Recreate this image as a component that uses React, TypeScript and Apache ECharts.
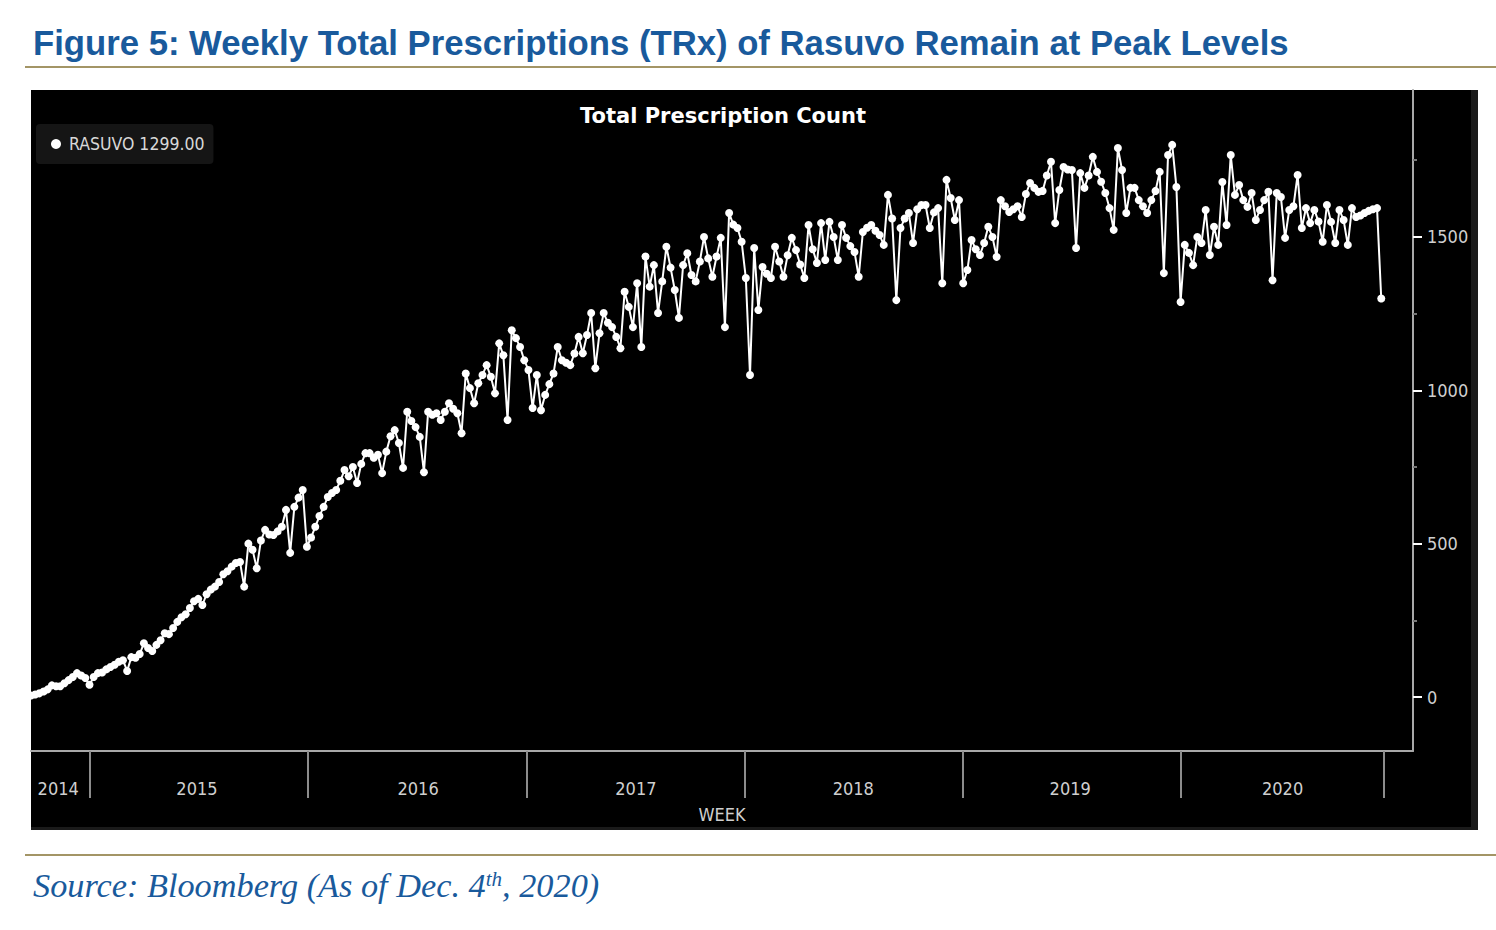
import React, { useEffect, useRef } from "react";
import * as echarts from "echarts";

// Year boundaries (in week index from first data week) and label positions
const yearLabels = ["2014", "2015", "2016", "2017", "2018", "2019", "2020"];
const yearTickWeeks = [14.1, 66.3, 118.5, 170.7, 222.9, 275.1, 323.7];
const yearLabelWeeks = [6.5, 39.7, 92.6, 144.7, 196.7, 248.6, 299.4];
const yTickValues = [0, 500, 1000, 1500];
const yMinorValues = [250, 750, 1250, 1750];

// Weekly total prescriptions (TRx)
const trx2014 = [5, 8, 12, 18, 25, 38, 35, 35, 45, 55, 65, 78, 70, 62];
const trx2015 = [40, 65, 78, 80, 90, 98, 105, 115, 120, 85, 130, 128, 140, 175, 160, 150, 170, 185, 208, 205, 225, 245, 260, 270, 290, 312, 320, 300, 335, 350, 360, 375, 400, 410, 425, 437, 440, 360, 500, 480, 420, 510, 545, 530, 528, 540, 555, 610, 470, 620, 650, 675];
const trx2016 = [490, 520, 555, 590, 620, 652, 665, 675, 705, 740, 720, 750, 698, 760, 795, 795, 780, 790, 730, 800, 850, 870, 828, 747, 930, 900, 880, 848, 733, 930, 920, 925, 903, 930, 958, 940, 925, 860, 1055, 1007, 958, 1023, 1050, 1082, 1044, 990, 1153, 1114, 903, 1196, 1170, 1141];
const trx2017 = [1098, 1066, 942, 1050, 935, 985, 1020, 1055, 1141, 1098, 1090, 1082, 1120, 1174, 1121, 1180, 1252, 1072, 1186, 1252, 1220, 1206, 1174, 1137, 1321, 1272, 1206, 1349, 1141, 1436, 1338, 1408, 1252, 1355, 1468, 1400, 1327, 1236, 1408, 1447, 1376, 1355, 1420, 1500, 1430, 1370, 1436, 1497, 1206, 1578, 1540, 1529, 1484];
const trx2018 = [1366, 1050, 1464, 1262, 1402, 1380, 1366, 1468, 1420, 1370, 1440, 1497, 1457, 1410, 1366, 1539, 1460, 1415, 1545, 1425, 1549, 1500, 1425, 1539, 1497, 1470, 1451, 1370, 1516, 1530, 1539, 1520, 1506, 1474, 1637, 1560, 1294, 1529, 1560, 1578, 1480, 1590, 1604, 1604, 1529, 1580, 1594, 1349, 1686, 1627, 1555, 1620];
const trx2019 = [1349, 1392, 1490, 1460, 1441, 1480, 1533, 1500, 1435, 1620, 1600, 1581, 1590, 1600, 1565, 1640, 1676, 1660, 1647, 1650, 1700, 1745, 1545, 1653, 1728, 1720, 1718, 1464, 1708, 1660, 1700, 1761, 1712, 1680, 1643, 1594, 1523, 1790, 1718, 1578, 1660, 1660, 1620, 1600, 1578, 1620, 1650, 1712, 1382, 1767, 1800, 1663];
const trx2020 = [1288, 1474, 1448, 1408, 1500, 1480, 1588, 1441, 1533, 1474, 1679, 1539, 1767, 1637, 1669, 1620, 1598, 1643, 1555, 1588, 1620, 1647, 1359, 1643, 1630, 1497, 1588, 1600, 1702, 1529, 1594, 1545, 1588, 1550, 1484, 1604, 1549, 1480, 1588, 1555, 1474, 1594, 1565, 1570, 1578, 1585, 1590, 1594, 1299];

const seriesName = "RASUVO";
const figureTitle = "Figure 5: Weekly Total Prescriptions (TRx) of Rasuvo Remain at Peak Levels";
const chartTitle = "Total Prescription Count";
const axisName = "WEEK";

const NARROW = "'Liberation Sans Narrow', 'DejaVu Sans Condensed', 'Arial Narrow', 'Liberation Sans', sans-serif";
const BLUE = "#195a9c";
const GOLD = "#a39566";
const LABEL = "#cfcfcf";

export default function App() {
  const ref = useRef<HTMLDivElement | null>(null);

  useEffect(() => {
    if (!ref.current) return;
    const chart = echarts.init(ref.current, null, { renderer: "svg" });
    const values = [...trx2014, ...trx2015, ...trx2016, ...trx2017, ...trx2018, ...trx2019, ...trx2020];
    const data = values.map((v, i) => [i, v]);
    const last = values[values.length - 1];

    const option: any = {
      animation: false,
      backgroundColor: "#ffffff",
      title: {
        text: chartTitle,
        left: 723,
        top: 105,
        padding: 0,
        textAlign: "center",
        textStyle: { color: "#ffffff", fontSize: 21, fontWeight: "bold", fontFamily: "'DejaVu Sans', sans-serif" },
      },
      legend: {
        left: 36,
        top: 124,
        padding: [11, 9, 11, 15],
        backgroundColor: "#151515",
        borderRadius: 4,
        icon: "circle",
        itemWidth: 10,
        itemHeight: 10,
        itemGap: 8,
        selectedMode: false,
        data: [seriesName],
        formatter: (name: string) => `${name} ${last.toFixed(2)}`,
        textStyle: { color: "#d8d8d8", fontSize: 17.5, fontFamily: NARROW, padding: [0, 0, 0, 3] },
      },
      grid: { left: 31, top: 90, width: 1382, height: 661, containLabel: false },
      xAxis: [
        {
          type: "value",
          min: 0,
          max: 330.6,
          axisLine: { show: true, onZero: false, lineStyle: { color: "#a8a8a8", width: 2 } },
          axisTick: { show: true, customValues: yearTickWeeks, length: 47, lineStyle: { color: "#8c8c8c", width: 2 } },
          axisLabel: {
            show: true,
            customValues: yearLabelWeeks,
            formatter: (v: number) => {
              let best = 0;
              yearLabelWeeks.forEach((w, k) => {
                if (Math.abs(w - v) < Math.abs(yearLabelWeeks[best] - v)) best = k;
              });
              return yearLabels[best];
            },
            margin: 28,
            color: LABEL,
            fontSize: 18,
            fontFamily: NARROW,
          },
          splitLine: { show: false },
          name: axisName,
          nameLocation: "middle",
          nameGap: 54,
          nameTextStyle: { color: LABEL, fontSize: 18, fontFamily: NARROW },
        },
      ],
      yAxis: [
        {
          type: "value",
          position: "right",
          min: -176,
          max: 1979,
          axisLine: { show: true, onZero: false, lineStyle: { color: "#a8a8a8", width: 2 } },
          axisTick: { show: true, customValues: yTickValues, length: 9, lineStyle: { color: "#ffffff", width: 2 } },
          axisLabel: {
            show: true,
            customValues: yTickValues,
            formatter: (v: number) => String(v),
            margin: 14,
            color: LABEL,
            fontSize: 18,
            fontFamily: NARROW,
          },
          splitLine: { show: false },
        },
        {
          type: "value",
          position: "right",
          min: -176,
          max: 1979,
          axisLine: { show: false, onZero: false },
          axisTick: { show: true, customValues: yMinorValues, length: 4, lineStyle: { color: "#777777", width: 2 } },
          axisLabel: { show: false },
          splitLine: { show: false },
        },
      ],
      graphic: [
        {
          type: "rect",
          z: -10,
          shape: { x: 31, y: 90, width: 1447, height: 740 },
          style: { fill: "#000000" },
        },
        {
          type: "rect",
          z: -9,
          shape: { x: 1471, y: 90, width: 7, height: 740 },
          style: { fill: "#1a1a1a" },
        },
        {
          type: "rect",
          z: -9,
          shape: { x: 31, y: 827, width: 1447, height: 3 },
          style: { fill: "#1a1a1a" },
        },
        {
          type: "text",
          x: 33,
          y: 43,
          style: {
            text: figureTitle,
            fill: BLUE,
            fontSize: 34.7,
            fontWeight: "bold",
            fontFamily: "'Liberation Sans', Arial, sans-serif",
            verticalAlign: "middle",
          },
        },
        {
          type: "line",
          shape: { x1: 25, y1: 67, x2: 1496, y2: 67 },
          style: { stroke: GOLD, lineWidth: 2 },
        },
        {
          type: "line",
          shape: { x1: 25, y1: 855, x2: 1496, y2: 855 },
          style: { stroke: GOLD, lineWidth: 2 },
        },
        {
          type: "text",
          x: 33,
          y: 885,
          style: {
            text: "{a|Source: Bloomberg (As of Dec. 4}{s|th}{a|, 2020)}",
            verticalAlign: "middle",
            rich: {
              a: { fill: BLUE, color: BLUE, fontSize: 34.3, fontStyle: "italic", fontFamily: "'Liberation Serif', 'DejaVu Serif', serif" },
              s: { fill: BLUE, color: BLUE, fontSize: 21, fontStyle: "italic", fontFamily: "'Liberation Serif', 'DejaVu Serif', serif", verticalAlign: "top" },
            },
          },
        },
      ],
      series: [
        {
          type: "line",
          name: seriesName,
          data,
          xAxisIndex: 0,
          yAxisIndex: 0,
          symbol: "circle",
          symbolSize: 8,
          showAllSymbol: true,
          lineStyle: { color: "#ffffff", width: 2 },
          itemStyle: { color: "#ffffff" },
          emphasis: { disabled: true },
          z: 3,
        },
      ],
    };

    chart.setOption(option);
    return () => chart.dispose();
  }, []);

  return <div ref={ref} style={{ position: "absolute", left: 0, top: 0, width: 1496, height: 930 }} />;
}
